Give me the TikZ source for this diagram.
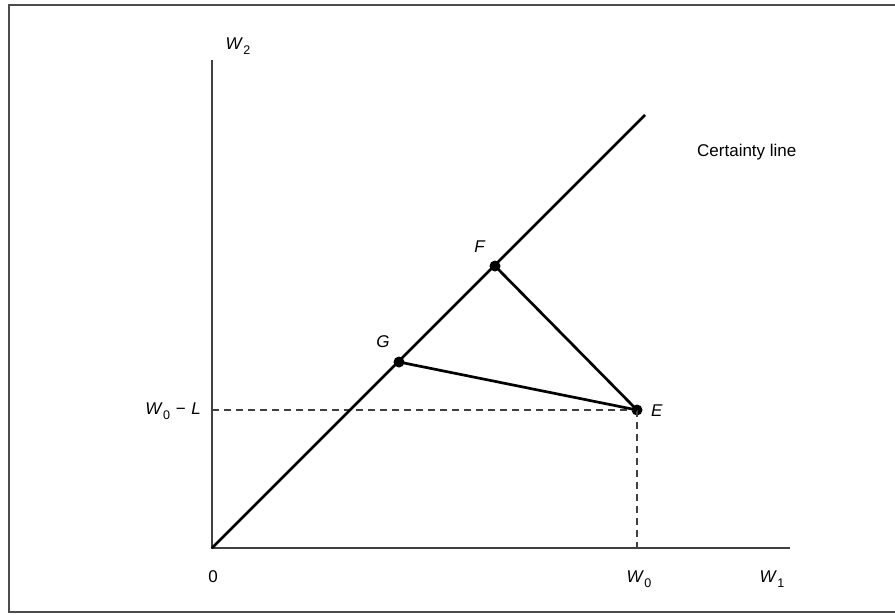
\documentclass[tikz,border=0pt]{standalone}
\usepackage{fontspec}
\setmainfont{Liberation Sans}
\newcommand\Wv[1]{\textit{W}\kern0.5pt\raisebox{-0.28em}{\fontsize{12.5}{14}\selectfont #1}}
\begin{document}
\begin{tikzpicture}[x=1pt,y=-1pt,
  axis/.style={draw=black!75,line width=1.5pt},
  thick line/.style={draw=black,line width=2.7pt},
  guide/.style={draw=black!75,line width=1.2pt,dash pattern=on 7pt off 5pt},
  dot/.style={circle,fill=black,inner sep=0pt,minimum size=11pt},
  lbl/.style={font=\fontsize{17}{20}\selectfont,inner sep=1pt},
  frame/.style={draw=black!70,line width=1.5pt}]
\useasboundingbox (0,0) rectangle (895,614);
% frame (right side open)
\coordinate (fbr) at (895,612);
\coordinate (fbl) at (9,612);
\coordinate (ftl) at (9,5);
\coordinate (ftr) at (895,5);
\draw[frame] (fbr) -- (fbl) -- (ftl) -- (ftr);
% points
\coordinate (O) at (212,548);
\coordinate (ytop) at (212,60);
\coordinate (xend) at (790,548);
\coordinate (cend) at (645,115);
\coordinate (yE) at (212,410);
\coordinate (xE) at (637,548);
\node[dot] (G) at (399,362) {};
\node[dot] (F) at (495,266) {};
\node[dot] (E) at (637,410) {};
% axes
\draw[axis] (ytop) -- (O) -- (xend);
% guides
\draw[guide] (yE) -- (E.center);
\draw[guide] (E.center) -- (xE);
% certainty line and chords
\draw[thick line] (O) -- (cend);
\draw[thick line] (G.center) -- (E.center);
\draw[thick line] (F.center) -- (E.center);
% labels
\node[lbl] (lW2) at (238,46) {\Wv{2}};
\node[lbl,anchor=east] (lW0L) at (202,411) {\Wv{0}\,\,−\,\,\textit{L}};
\node[lbl,anchor=west] (lE) at (650,411) {\textit{E}};
\node[lbl] (lF) at (480,247) {\textit{F}};
\node[lbl] (lG) at (383,342) {\textit{G}};
\node[lbl,anchor=west] (lcert) at (696,152) {Certainty line};
\node[lbl] (l0) at (213,577) {0};
\node[lbl] (lW0) at (639,579) {\Wv{0}};
\node[lbl] (lW1) at (772,579) {\Wv{1}};
\end{tikzpicture}
\end{document}
